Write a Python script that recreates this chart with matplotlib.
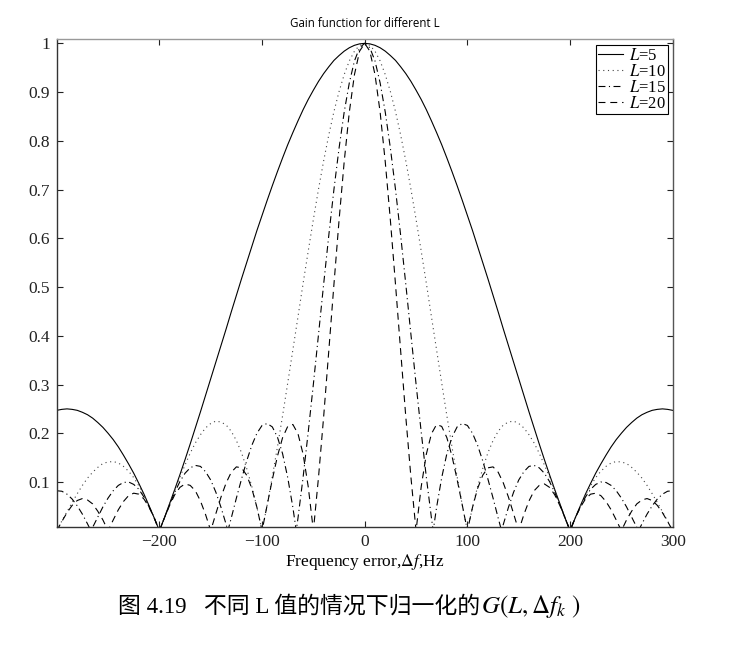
import numpy as np
import matplotlib
matplotlib.use("Agg")
import matplotlib.pyplot as plt

plt.rcParams['font.family'] = ['Liberation Serif', 'Noto Sans CJK SC', 'DejaVu Sans']
plt.rcParams['mathtext.fontset'] = 'stix'
plt.rcParams['lines.scale_dashes'] = False

# frequency grid (Hz), 5 Hz steps from -300 to 300
freq = np.arange(-300, 305, 5)

# normalised gain, L = 5
gain_5 = [
    0.247, 0.249, 0.250, 0.249, 0.247, 0.243, 0.238, 0.231, 0.222, 0.212,   # -300..-255
    0.200, 0.187, 0.172, 0.155, 0.137, 0.118, 0.097, 0.075, 0.051, 0.026,   # -250..-205
    0.000, 0.027, 0.056, 0.085, 0.115, 0.146, 0.178, 0.211, 0.244, 0.278,   # -200..-155
    0.312, 0.346, 0.380, 0.414, 0.449, 0.483, 0.517, 0.550, 0.583, 0.616,   # -150..-105
    0.647, 0.678, 0.708, 0.737, 0.765, 0.792, 0.817, 0.841, 0.864, 0.885,   # -100..-55
    0.904, 0.922, 0.938, 0.952, 0.965, 0.975, 0.984, 0.991, 0.996, 0.999,   # -50..-5
    1.000,
    0.999, 0.996, 0.991, 0.984, 0.975, 0.965, 0.952, 0.938, 0.922, 0.904,   # 5..50
    0.885, 0.864, 0.841, 0.817, 0.792, 0.765, 0.737, 0.708, 0.678, 0.647,   # 55..100
    0.616, 0.583, 0.550, 0.517, 0.483, 0.449, 0.414, 0.380, 0.346, 0.312,   # 105..150
    0.278, 0.244, 0.211, 0.178, 0.146, 0.115, 0.085, 0.056, 0.027, 0.000,   # 155..200
    0.026, 0.051, 0.075, 0.097, 0.118, 0.137, 0.155, 0.172, 0.187, 0.200,   # 205..250
    0.212, 0.222, 0.231, 0.238, 0.243, 0.247, 0.249, 0.250, 0.249, 0.247,   # 255..300
]

# L = 10
gain_10 = [
    0.000, 0.020, 0.039, 0.058, 0.076, 0.093, 0.108, 0.120, 0.130, 0.138,
    0.141, 0.142, 0.139, 0.132, 0.122, 0.109, 0.092, 0.073, 0.050, 0.026,
    0.000, 0.027, 0.055, 0.083, 0.110, 0.135, 0.159, 0.180, 0.197, 0.211,
    0.220, 0.225, 0.223, 0.217, 0.204, 0.185, 0.160, 0.128, 0.091, 0.048,
    0.000, 0.053, 0.111, 0.172, 0.236, 0.303, 0.371, 0.439, 0.508, 0.574,
    0.639, 0.701, 0.759, 0.812, 0.860, 0.901, 0.936, 0.964, 0.984, 0.996,
    1.000,
    0.996, 0.984, 0.964, 0.936, 0.901, 0.860, 0.812, 0.759, 0.701, 0.639,
    0.574, 0.508, 0.439, 0.371, 0.303, 0.236, 0.172, 0.111, 0.053, 0.000,
    0.048, 0.091, 0.128, 0.160, 0.185, 0.204, 0.217, 0.223, 0.225, 0.220,
    0.211, 0.197, 0.180, 0.159, 0.135, 0.110, 0.083, 0.055, 0.027, 0.000,
    0.026, 0.050, 0.073, 0.092, 0.109, 0.122, 0.132, 0.139, 0.142, 0.141,
    0.138, 0.130, 0.120, 0.108, 0.093, 0.076, 0.058, 0.039, 0.020, 0.000,
]

# L = 20
gain_20 = [
    0.000, 0.019, 0.037, 0.052, 0.062, 0.066, 0.063, 0.055, 0.040, 0.022,
    0.000, 0.022, 0.043, 0.060, 0.072, 0.077, 0.075, 0.065, 0.048, 0.026,
    0.000, 0.027, 0.052, 0.074, 0.089, 0.096, 0.093, 0.082, 0.061, 0.033,
    0.000, 0.035, 0.069, 0.098, 0.120, 0.131, 0.129, 0.114, 0.087, 0.048,
    0.000, 0.053, 0.105, 0.153, 0.191, 0.214, 0.218, 0.199, 0.157, 0.090,
    0.000, 0.110, 0.234, 0.369, 0.505, 0.637, 0.757, 0.859, 0.936, 0.984,
    1.000,
    0.984, 0.936, 0.859, 0.757, 0.637, 0.505, 0.369, 0.234, 0.110, 0.000,
    0.090, 0.157, 0.199, 0.218, 0.214, 0.191, 0.153, 0.105, 0.053, 0.000,
    0.048, 0.087, 0.114, 0.129, 0.131, 0.120, 0.098, 0.069, 0.035, 0.000,
    0.033, 0.061, 0.082, 0.093, 0.096, 0.089, 0.074, 0.052, 0.027, 0.000,
    0.026, 0.048, 0.065, 0.075, 0.077, 0.072, 0.060, 0.043, 0.022, 0.000,
    0.022, 0.040, 0.055, 0.063, 0.066, 0.062, 0.052, 0.037, 0.019, 0.000,
]

# L = 15 has its nulls off the 5 Hz grid, so it keeps its own x values
freq_15 = [
    -300, -295, -290, -285, -280, -275, -270, -266.7,
    -265, -260, -255, -250, -245, -240, -235, -230, -225, -220, -215, -210, -205,
    -200, -195, -190, -185, -180, -175, -170, -165, -160, -155, -150, -145, -140, -135, -133.3,
    -130, -125, -120, -115, -110, -105, -100, -95, -90, -85, -80, -75, -70, -66.7,
    -65, -60, -55, -50, -45, -40, -35, -30, -25, -20, -15, -10, -5,
    0,
    5, 10, 15, 20, 25, 30, 35, 40, 45, 50, 55, 60, 65,
    66.7, 70, 75, 80, 85, 90, 95, 100, 105, 110, 115, 120, 125, 130,
    133.3, 135, 140, 145, 150, 155, 160, 165, 170, 175, 180, 185, 190, 195, 200,
    205, 210, 215, 220, 225, 230, 235, 240, 245, 250, 255, 260, 265,
    266.7, 270, 275, 280, 285, 290, 295, 300,
]
gain_15 = [
    0.082, 0.081, 0.075, 0.065, 0.051, 0.034, 0.014, 0.000,
    0.007, 0.028, 0.049, 0.067, 0.082, 0.093, 0.099, 0.100, 0.095, 0.085, 0.069, 0.049, 0.026,
    0.000, 0.027, 0.054, 0.079, 0.101, 0.118, 0.129, 0.134, 0.132, 0.121, 0.104, 0.079, 0.048, 0.013, 0.000,
    0.026, 0.067, 0.106, 0.143, 0.175, 0.200, 0.216, 0.220, 0.213, 0.192, 0.158, 0.109, 0.048, 0.000,
    0.026, 0.110, 0.203, 0.301, 0.403, 0.506, 0.606, 0.700, 0.785, 0.859, 0.919, 0.964, 0.991,
    1.000,
    0.991, 0.964, 0.919, 0.859, 0.785, 0.700, 0.606, 0.506, 0.403, 0.301, 0.203, 0.110, 0.026,
    0.000, 0.048, 0.109, 0.158, 0.192, 0.213, 0.220, 0.216, 0.200, 0.175, 0.143, 0.106, 0.067, 0.026,
    0.000, 0.013, 0.048, 0.079, 0.104, 0.121, 0.132, 0.134, 0.129, 0.118, 0.101, 0.079, 0.054, 0.027, 0.000,
    0.026, 0.049, 0.069, 0.085, 0.095, 0.100, 0.099, 0.093, 0.082, 0.067, 0.049, 0.028, 0.007,
    0.000, 0.014, 0.034, 0.051, 0.065, 0.075, 0.081, 0.082,
]

x_ticks = [-200, -100, 0, 100, 200, 300]
x_tick_labels = ['\u2212200', '\u2212100', '0', '100', '200', '300']
y_ticks = [0.1, 0.2, 0.3, 0.4, 0.5, 0.6, 0.7, 0.8, 0.9, 1.0]
y_tick_labels = ['0.1', '0.2', '0.3', '0.4', '0.5', '0.6', '0.7', '0.8', '0.9', '1']


def main():
    fig = plt.figure(figsize=(7.32, 6.47), dpi=100)
    ax = fig.add_axes([0.0775, 0.185, 0.8415, 0.754])

    lw = 0.8
    ax.plot(freq, gain_5, color='black', lw=lw, ls='-', label='$L$=5')
    ax.plot(freq, gain_10, color='#444444', lw=lw, dashes=(0.8, 2.6), label='$L$=10')
    ax.plot(freq_15, gain_15, color='black', lw=lw, dashes=(5, 2.5, 0.8, 2.5), label='$L$=15')
    ax.plot(freq, gain_20, color='black', lw=lw, dashes=(5, 3.5), label='$L$=20')

    ax.set_xlim(-300, 300)
    ax.set_ylim(0.007, 1.008)
    ax.set_xticks(x_ticks)
    ax.set_xticklabels(x_tick_labels)
    ax.set_yticks(y_ticks)
    ax.set_yticklabels(y_tick_labels)
    ax.tick_params(direction='in', length=4, width=0.8, top=True, right=True,
                   labelsize=12.5, pad=5, colors='#222222')

    for side in ['left', 'bottom']:
        ax.spines[side].set_color('#333333')
    ax.spines['right'].set_color('#555555')
    ax.spines['top'].set_color('#999999')
    for sp in ax.spines.values():
        sp.set_linewidth(1.0)

    ax.set_xlabel('Frequency error,$\\Delta f$,Hz', fontsize=12.5, labelpad=1)
    ax.set_title('Gain function for different L', fontsize=8.3,
                 family=['Open Sans', 'DejaVu Sans'], pad=9)

    leg = ax.legend(loc='upper right', bbox_to_anchor=(0.993, 0.988), fontsize=12,
                    fancybox=False, framealpha=1, edgecolor='black',
                    borderpad=0.15, labelspacing=0.0, handlelength=1.5,
                    handletextpad=0.35, borderaxespad=0)
    leg.get_frame().set_linewidth(0.8)

    # caption: plain CJK text, then the math part right after it
    cap = fig.text(0.161, 0.053, '图 4.19   不同 L 值的情况下归一化的',
                   ha='left', va='baseline', fontsize=16.5)
    fig.canvas.draw()
    bb = cap.get_window_extent(fig.canvas.get_renderer())
    fig.text(bb.x1 / fig.bbox.width + 0.002, 0.053, '$G(L,\\Delta f_k\\ )$',
             ha='left', va='baseline', fontsize=18)

    fig.savefig('out.png', dpi=100)


if __name__ == "__main__":
    main()
